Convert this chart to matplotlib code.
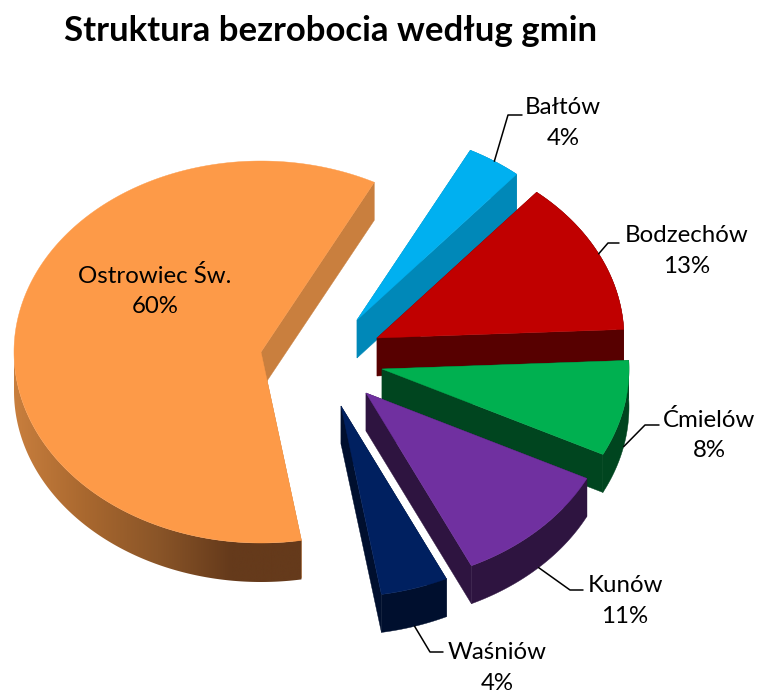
import numpy as np
import matplotlib
matplotlib.use("Agg")
import matplotlib.pyplot as plt
from matplotlib.colors import LinearSegmentedColormap
from matplotlib.patches import Polygon

plt.rcParams["font.family"] = ["Lato", "DejaVu Sans"]

# share of unemployment, clockwise from the first slice
gminy = ["Bałtów", "Bodzechów", "Ćmielów", "Kunów", "Waśniów", "Ostrowiec Św."]
shares = [3.6, 13.1, 8.1, 10.6, 4.4, 60.2]

top_colors = ["#00B0F0", "#C00000", "#00B050", "#7030A0", "#002060", "#FD9A48"]
side_colors = ["#0088B8", "#570000", "#00451F", "#2E1440", "#000F2E", "#C97F3E"]

# layout, in picture pixels
center_x, center_y = 261, 352
rx, ry, depth = 247, 191, 38
first_angle = 27.3
explode = [(96, -32), (116, -14), (121, 17), (105, 41), (80, 54), (0, 0)]
label_pos = [(563, 123), (687, 251), (709, 435), (625, 601), (497, 668), (155, 291)]
elbows = [
    [(508, 115), (522, 115)],
    [(608, 243), (619, 243)],
    [(645, 425), (659, 425)],
    [(570, 590), (583, 590)],
    [(430, 652), (443, 652)],
    None,
]

side_cmap = LinearSegmentedColormap.from_list(
    "rim", ["#C97F3E", "#A9682F", "#8A5528", "#653A1B", "#653A1B"]
)

fig = plt.figure(figsize=(7.58, 6.93), dpi=100)
ax = fig.add_axes([0, 0, 1, 1])
ax.axis("off")

angle = first_angle
total = sum(shares)
for i, name in enumerate(gminy):
    sweep = 360 * shares[i] / total
    cx = center_x + explode[i][0]
    cy = center_y + explode[i][1]
    theta = np.radians(np.linspace(angle, angle + sweep, 400))
    arc_x = cx + rx * np.sin(theta)
    arc_y = cy - ry * np.cos(theta)

    # the two cut faces, then the rim, then the top
    for end in (0, -1):
        quad = [(cx, cy), (arc_x[end], arc_y[end]), (arc_x[end], arc_y[end] + depth), (cx, cy + depth)]
        ax.add_patch(Polygon(quad, facecolor=side_colors[i], edgecolor=side_colors[i], lw=0.3))

    band = np.column_stack([np.r_[arc_x, arc_x[::-1]], np.r_[arc_y, arc_y[::-1] + depth]])
    if name == "Ostrowiec Św.":
        # only the big slice has the shaded rim, so paint a gradient through the band
        front = np.cos(theta) < 0
        rim = np.column_stack([np.r_[arc_x[front], arc_x[front][::-1]],
                               np.r_[arc_y[front], arc_y[front][::-1] + depth + 1]])
        clip = Polygon(rim, facecolor="none", edgecolor="none")
        ax.add_patch(clip)
        grad = ax.imshow(np.linspace(0, 1, 256).reshape(1, -1), cmap=side_cmap,
                         extent=(12, 304, 600, 300), aspect="auto", zorder=1.5)
        grad.set_clip_path(clip)
    else:
        ax.add_patch(Polygon(band, facecolor=side_colors[i], edgecolor=side_colors[i], lw=0.3))

    top = np.column_stack([np.r_[cx, arc_x], np.r_[cy, arc_y]])
    ax.add_patch(Polygon(top, facecolor=top_colors[i], edgecolor=top_colors[i], lw=0.3, zorder=2))

    # leader line starts on the outer edge at the middle of the slice
    if elbows[i] is not None:
        mid = np.radians(angle + sweep / 2)
        start_x = cx + rx * np.sin(mid)
        start_y = cy - ry * np.cos(mid)
        if np.cos(mid) < 0.1:
            start_y += depth
        xs = [start_x] + [p[0] for p in elbows[i]]
        ys = [start_y] + [p[1] for p in elbows[i]]
        ax.plot(xs, ys, color="black", lw=1.1, solid_capstyle="round", zorder=5)

    ax.text(label_pos[i][0], label_pos[i][1], f"{name}\n{round(shares[i])}%",
            ha="center", va="center", fontsize=17.3, color="black",
            linespacing=1.56, zorder=6)
    angle += sweep

ax.text(64, 31, "Struktura bezrobocia według gmin", ha="left", va="center",
        fontsize=25, fontweight="bold", color="black")

ax.set_xlim(0, 758)
ax.set_ylim(693, 0)

fig.savefig("out.png", dpi=100)
